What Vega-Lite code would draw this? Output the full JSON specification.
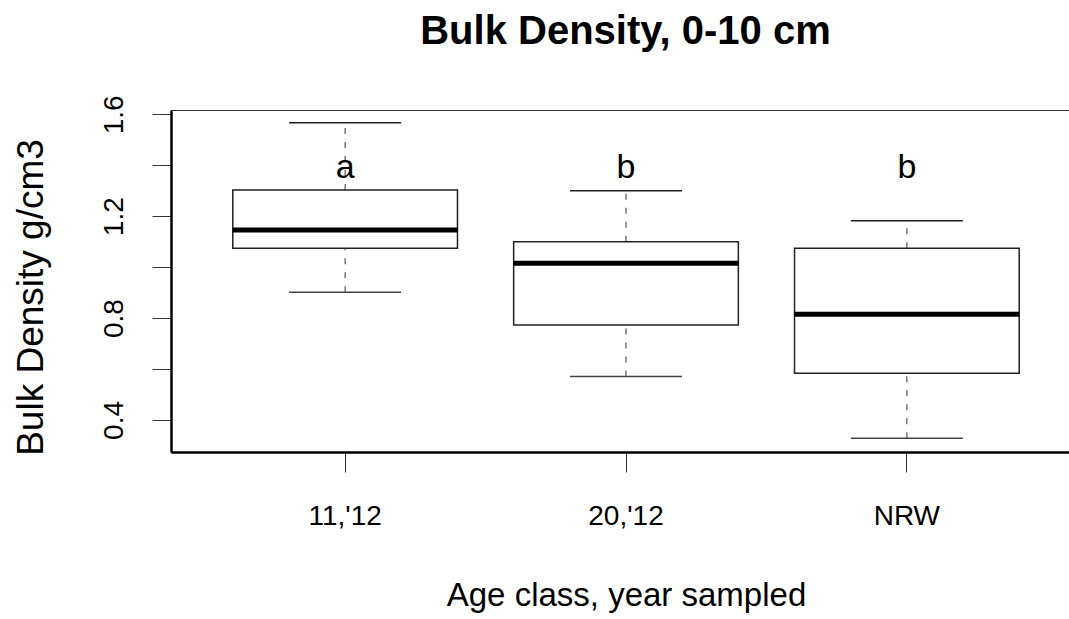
{
  "$schema": "https://vega.github.io/schema/vega-lite/v6.json",
  "width": 899,
  "height": 342,
  "autosize": {"type": "none"},
  "padding": {"left": 171, "top": 110, "right": 0, "bottom": 167},
  "background": "white",
  "config": {
    "view": {"stroke": "#333", "strokeWidth": 1},
    "font": "Liberation Sans",
    "axisY": {
      "titleFont": "Liberation Sans",
      "titleFontSize": 37,
      "titleFontWeight": "normal",
      "titleColor": "black",
      "titleAngle": 270,
      "titleBaseline": "alphabetic",
      "titleAlign": "center",
      "titleX": -129,
      "titleY": 187,
      "values": [0.4, 0.6, 0.8, 1.0, 1.2, 1.4, 1.6],
      "format": ".1f",
      "labelExpr": "indexof(['0.4','0.8','1.2','1.6'], datum.label) >= 0 ? datum.label : ''",
      "labelAngle": 270,
      "labelAlign": "center",
      "labelBaseline": "alphabetic",
      "labelFont": "Liberation Sans",
      "labelFontSize": 28,
      "labelColor": "black",
      "labelPadding": 30,
      "labelOverlap": false,
      "labelFlush": false,
      "tickSize": 19,
      "tickColor": "#333",
      "domainColor": "black",
      "domainWidth": 2.5,
      "grid": false
    }
  },
  "title": {
    "text": "Bulk Density, 0-10 cm",
    "font": "Liberation Sans",
    "fontSize": 40,
    "fontWeight": "bold",
    "color": "black",
    "anchor": "middle",
    "frame": "group",
    "baseline": "alphabetic",
    "offset": 29,
    "dx": 5,
    "dy": 18
  },
  "data": {
    "values": [
      {"group": "11,'12", "min": 0.901, "q1": 1.074, "median": 1.146, "q3": 1.303, "max": 1.567, "letter": "a"},
      {"group": "20,'12", "min": 0.570, "q1": 0.773, "median": 1.015, "q3": 1.100, "max": 1.300, "letter": "b"},
      {"group": "NRW", "min": 0.328, "q1": 0.583, "median": 0.815, "q3": 1.074, "max": 1.182, "letter": "b"}
    ]
  },
  "encoding": {
    "x": {
      "field": "group",
      "type": "nominal",
      "sort": null,
      "scale": {"paddingInner": 0.2, "paddingOuter": 0.22, "range": [0, 910]},
      "axis": {
        "title": "Age class, year sampled",
        "titleFont": "Liberation Sans",
        "titleFontSize": 33,
        "titleFontWeight": "normal",
        "titleColor": "black",
        "titleBaseline": "alphabetic",
        "titleAlign": "center",
        "titleX": 455,
        "titleY": 153,
        "labelAngle": 0,
        "labelFont": "Liberation Sans",
        "labelFontSize": 28,
        "labelColor": "black",
        "labelBaseline": "alphabetic",
        "labelPadding": 52,
        "tickSize": 20,
        "tickColor": "#333",
        "tickWidth": 1,
        "domainColor": "black",
        "domainWidth": 2.5,
        "grid": false
      }
    }
  },
  "layer": [
    {
      "mark": {"type": "rule", "strokeDash": [6, 8], "color": "#555", "strokeWidth": 1.2},
      "encoding": {
        "y": {
          "field": "q3",
          "type": "quantitative",
          "title": "Bulk Density g/cm3",
          "scale": {"domain": [0.274, 1.617], "nice": false, "zero": false}
        },
        "y2": {"field": "max"}
      }
    },
    {
      "mark": {"type": "rule", "strokeDash": [6, 8], "color": "#555", "strokeWidth": 1.2},
      "encoding": {
        "y": {"field": "min", "type": "quantitative", "title": "Bulk Density g/cm3"},
        "y2": {"field": "q1"}
      }
    },
    {
      "mark": {"type": "tick", "size": 112, "thickness": 1.5, "color": "#222", "opacity": 1},
      "encoding": {"y": {"field": "max", "type": "quantitative", "title": "Bulk Density g/cm3"}}
    },
    {
      "mark": {"type": "tick", "size": 112, "thickness": 1.5, "color": "#444", "opacity": 1},
      "encoding": {"y": {"field": "min", "type": "quantitative", "title": "Bulk Density g/cm3"}}
    },
    {
      "mark": {"type": "bar", "fill": "white", "stroke": "#222", "strokeWidth": 1.5, "opacity": 1},
      "encoding": {
        "y": {"field": "q1", "type": "quantitative", "title": "Bulk Density g/cm3"},
        "y2": {"field": "q3"}
      }
    },
    {
      "mark": {"type": "tick", "size": 225, "thickness": 5, "color": "black", "opacity": 1},
      "encoding": {"y": {"field": "median", "type": "quantitative", "title": "Bulk Density g/cm3"}}
    },
    {
      "mark": {"type": "text", "font": "Liberation Sans", "fontSize": 34, "color": "black", "baseline": "middle", "align": "center"},
      "encoding": {
        "y": {"datum": 1.39, "type": "quantitative", "title": "Bulk Density g/cm3"},
        "text": {"field": "letter"}
      }
    }
  ]
}
